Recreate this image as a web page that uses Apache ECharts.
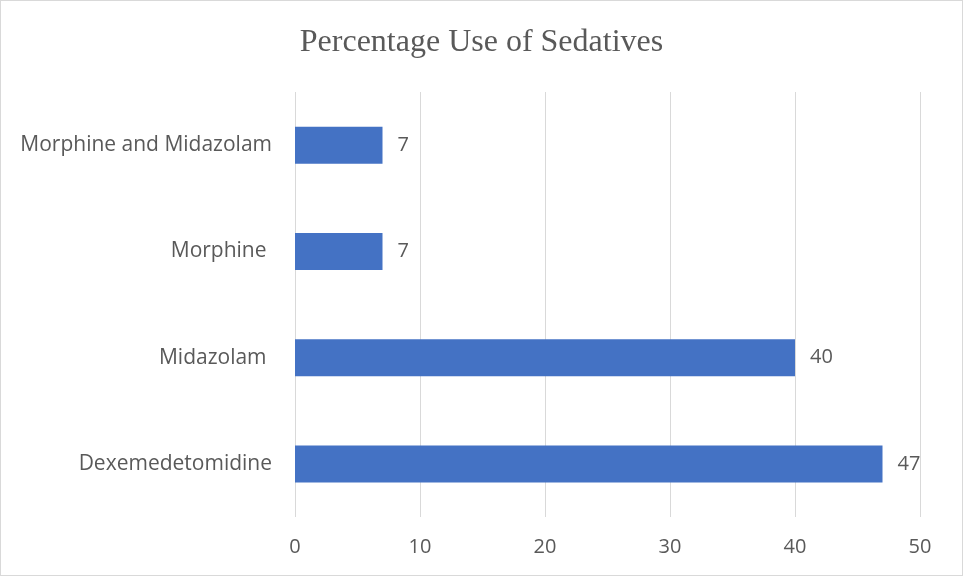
<!DOCTYPE html>
<html>
<head>
<meta charset="utf-8">
<script src="https://cdn.jsdelivr.net/npm/echarts@6/dist/echarts.min.js"></script>
<style>
  html, body { margin: 0; padding: 0; background: #fff; }
  #chart { width: 961px; height: 574px; border: 1px solid #d9d9d9; }
</style>
</head>
<body>
<div id="chart"></div>
<script>
// data
var categories = ['Dexemedetomidine', 'Midazolam ', 'Morphine ', 'Morphine and Midazolam'];
var values = [47, 40, 7, 7];
var xTicks = [0, 10, 20, 30, 40, 50];

var myChart = echarts.init(document.getElementById('chart'));

var textColor = '#595959';
var bodyFont = '"Open Sans", Lato, sans-serif';

var option = {
    animation: false,
    title: {
        text: 'Percentage Use of Sedatives',
        left: 'center',
        top: 21,
        textStyle: {
            fontFamily: '"Liberation Serif", "Times New Roman", serif',
            fontSize: 32,
            fontWeight: 'normal',
            color: textColor
        }
    },
    grid: {
        left: 294,
        right: 42,
        top: 91,
        bottom: 58,
        containLabel: false
    },
    xAxis: {
        type: 'value',
        min: xTicks[0],
        max: xTicks[xTicks.length - 1],
        interval: 10,
        axisLine: { show: false },
        axisTick: { show: false },
        splitLine: { lineStyle: { color: '#d9d9d9', width: 1 } },
        axisLabel: {
            margin: 20,
            fontFamily: bodyFont,
            fontSize: 20,
            color: textColor
        }
    },
    yAxis: {
        type: 'category',
        data: categories,
        axisLine: { show: false },
        axisTick: { show: false },
        axisLabel: {
            margin: 23,
            fontFamily: bodyFont,
            fontSize: 21,
            color: textColor
        }
    },
    series: [
        {
            name: 'Percentage',
            type: 'bar',
            data: values,
            barWidth: 37,
            itemStyle: { color: '#4472C4' },
            label: {
                show: true,
                position: 'right',
                distance: 15,
                fontFamily: bodyFont,
                fontSize: 20,
                color: textColor
            }
        }
    ]
};

myChart.setOption(option, true);
</script>
</body>
</html>
